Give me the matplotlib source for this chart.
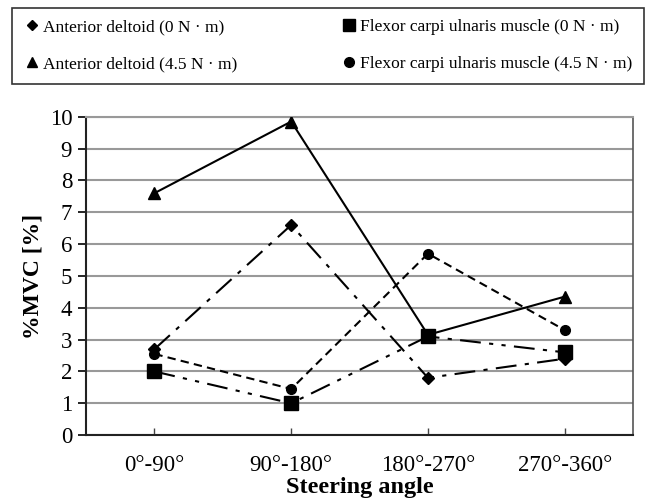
import matplotlib
matplotlib.use("Agg")
import matplotlib.pyplot as plt
from matplotlib.lines import Line2D

categories = ["0°-90°", "90°-180°", "180°-270°", "270°-360°"]
ad_0 = [2.7, 6.6, 1.8, 2.4]
fcu_0 = [2.0, 1.0, 3.1, 2.6]
ad_45 = [7.6, 9.85, 3.15, 4.35]
fcu_45 = [2.55, 1.45, 5.7, 3.3]
lab_ad_0 = "Anterior deltoid (0 N · m)"
lab_fcu_0 = "Flexor carpi ulnaris muscle (0 N · m)"
lab_ad_45 = "Anterior deltoid (4.5 N · m)"
lab_fcu_45 = "Flexor carpi ulnaris muscle (4.5 N · m)"
yticks = list(range(0, 11))

plt.rcParams['font.family'] = ['Liberation Serif', 'DejaVu Serif']

fig = plt.figure(figsize=(6.52, 4.99), dpi=100)
ax = fig.add_axes([0.132, 0.128, 0.839, 0.638])
x = list(range(len(categories)))

ax.plot(x, ad_0, color='black', lw=1.5, dashes=(10, 4, 2, 4), marker='D', ms=6, zorder=3)
ax.plot(x, fcu_0, color='black', lw=1.5, dashes=(10, 4, 2, 4, 2, 4), marker='s', ms=10, zorder=3)
ax.plot(x, ad_45, color='black', lw=1.5, linestyle='-', marker='^', ms=9, zorder=3)
ax.plot(x, fcu_45, color='black', lw=1.5, dashes=(4, 2.5), marker='o', ms=7, zorder=3)

ax.set_xlim(-0.5, 3.5)
ax.set_ylim(0, 10)
ax.set_yticks(yticks)
ax.set_xticks(x)
ax.set_xticklabels(categories, fontsize=16.5)
ax.tick_params(axis='y', labelsize=16.5, direction='out', length=6, width=1.2, pad=4)
ax.tick_params(axis='x', direction='in', length=5, width=1, pad=14, color='#444444')
ax.yaxis.grid(True, color='#999999', lw=1.5)
ax.set_axisbelow(True)
for s in ['left', 'bottom']:
    ax.spines[s].set_linewidth(1.5)
    ax.spines[s].set_color('#222222')
ax.spines['top'].set_color('#999999')
ax.spines['top'].set_linewidth(1.5)
ax.spines['right'].set_color('#555555')
ax.spines['right'].set_linewidth(1.2)
ax.set_ylabel("%MVC [%]", fontsize=17, fontweight='bold', labelpad=4)
ax.set_xlabel("Steering angle", fontsize=17.5, fontweight='bold', va='center')
ax.xaxis.set_label_coords(0.5, -0.163)

handles = [Line2D([], [], color='black', marker='D', ms=5, ls='none'),
           Line2D([], [], color='black', marker='^', ms=7, ls='none'),
           Line2D([], [], color='black', marker='s', ms=8, ls='none'),
           Line2D([], [], color='black', marker='o', ms=7, ls='none')]
labels = [lab_ad_0, lab_ad_45, lab_fcu_0, lab_fcu_45]
leg = fig.legend(handles, labels, loc='upper left',
                 bbox_to_anchor=(12 / 652, 1 - 86 / 499, 632 / 652, 78 / 499),
                 mode='expand', ncol=2, fontsize=12.5, frameon=True, fancybox=False,
                 edgecolor='black', handlelength=1.0, handletextpad=0.15, borderpad=0.65,
                 labelspacing=1.2, columnspacing=1.0, borderaxespad=0)
leg.get_frame().set_linewidth(1.2)

fig.savefig("out.png", dpi=100)
